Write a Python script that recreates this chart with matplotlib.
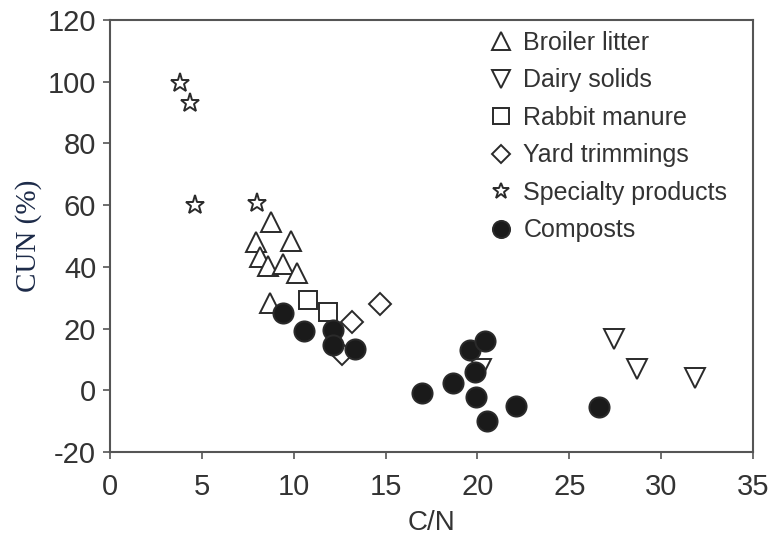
import matplotlib.pyplot as plt

plt.rcParams['font.family'] = ['Liberation Sans', 'DejaVu Sans']
plt.rcParams['axes.unicode_minus'] = False

# data (C/N, CUN %)
broiler_x = [8.75, 7.95, 9.84, 8.17, 8.6, 9.42, 10.16, 8.71]
broiler_y = [54.5, 48.1, 48.3, 43.1, 40.3, 40.8, 37.9, 28.3]
dairy_x = [27.45, 28.67, 31.86, 20.2]
dairy_y = [16.7, 7.0, 4.1, 7.0]
rabbit_x = [10.8, 11.85]
rabbit_y = [29.2, 25.4]
yard_x = [14.7, 13.16, 12.6]
yard_y = [28.1, 22.1, 11.8]
special_x = [3.8, 4.35, 4.6, 8.0]
special_y = [99.5, 93.0, 60.0, 60.6]
compost_x = [9.4, 10.56, 12.16, 12.16, 13.34, 16.97, 18.65, 19.6, 20.41,
             19.87, 19.9, 20.5, 22.1, 26.6]
compost_y = [25.0, 19.2, 19.4, 14.6, 13.5, -0.75, 2.4, 13.2, 15.9,
             5.9, -2.2, -9.9, -5.2, -5.4]

series = [
    (broiler_x, broiler_y, '^', 'Broiler litter', 'white', 15),
    (dairy_x, dairy_y, 'v', 'Dairy solids', 'white', 15),
    (rabbit_x, rabbit_y, 's', 'Rabbit manure', 'white', 13),
    (yard_x, yard_y, 'D', 'Yard trimmings', 'white', 11),
    (special_x, special_y, '*', 'Specialty products', 'white', 14),
    (compost_x, compost_y, 'o', 'Composts', '#1a1a1a', 14.5),
]

fig = plt.figure(figsize=(7.71, 5.35), dpi=100)
ax = fig.add_axes([0.1427, 0.1551, 0.834, 0.8075])

for xs, ys, m, lab, fc, ms in series:
    ax.plot(xs, ys, linestyle='none', marker=m, markersize=ms,
            markerfacecolor=fc, markeredgecolor='#2a2a2a',
            markeredgewidth=1.4, label=lab)

ax.set_xlim(0, 35)
ax.set_ylim(-20, 120)
ax.set_xticks(range(0, 36, 5))
ax.set_yticks(range(-20, 121, 20))
ax.tick_params(direction='out', length=5, width=1.2, color='#555555',
               labelsize=21, labelcolor='#333333')
ax.tick_params(axis='x', pad=10)
ax.tick_params(axis='y', pad=5)
for sp in ax.spines.values():
    sp.set_color('#555555')
    sp.set_linewidth(1.5)

ax.set_xlabel('C/N', fontsize=20, color='#333333', labelpad=6.5)
ax.set_ylabel('CUN (%)', fontsize=21, color='#1c2a48',
              family=['Liberation Serif', 'DejaVu Serif'], labelpad=4)

ax.legend(loc='upper right', bbox_to_anchor=(0.995, 1.027), frameon=False,
          fontsize=18, markerscale=0.85, handletextpad=0.4,
          labelspacing=0.54, handlelength=1.0, labelcolor='#333333')

plt.savefig('out.png', dpi=100)
